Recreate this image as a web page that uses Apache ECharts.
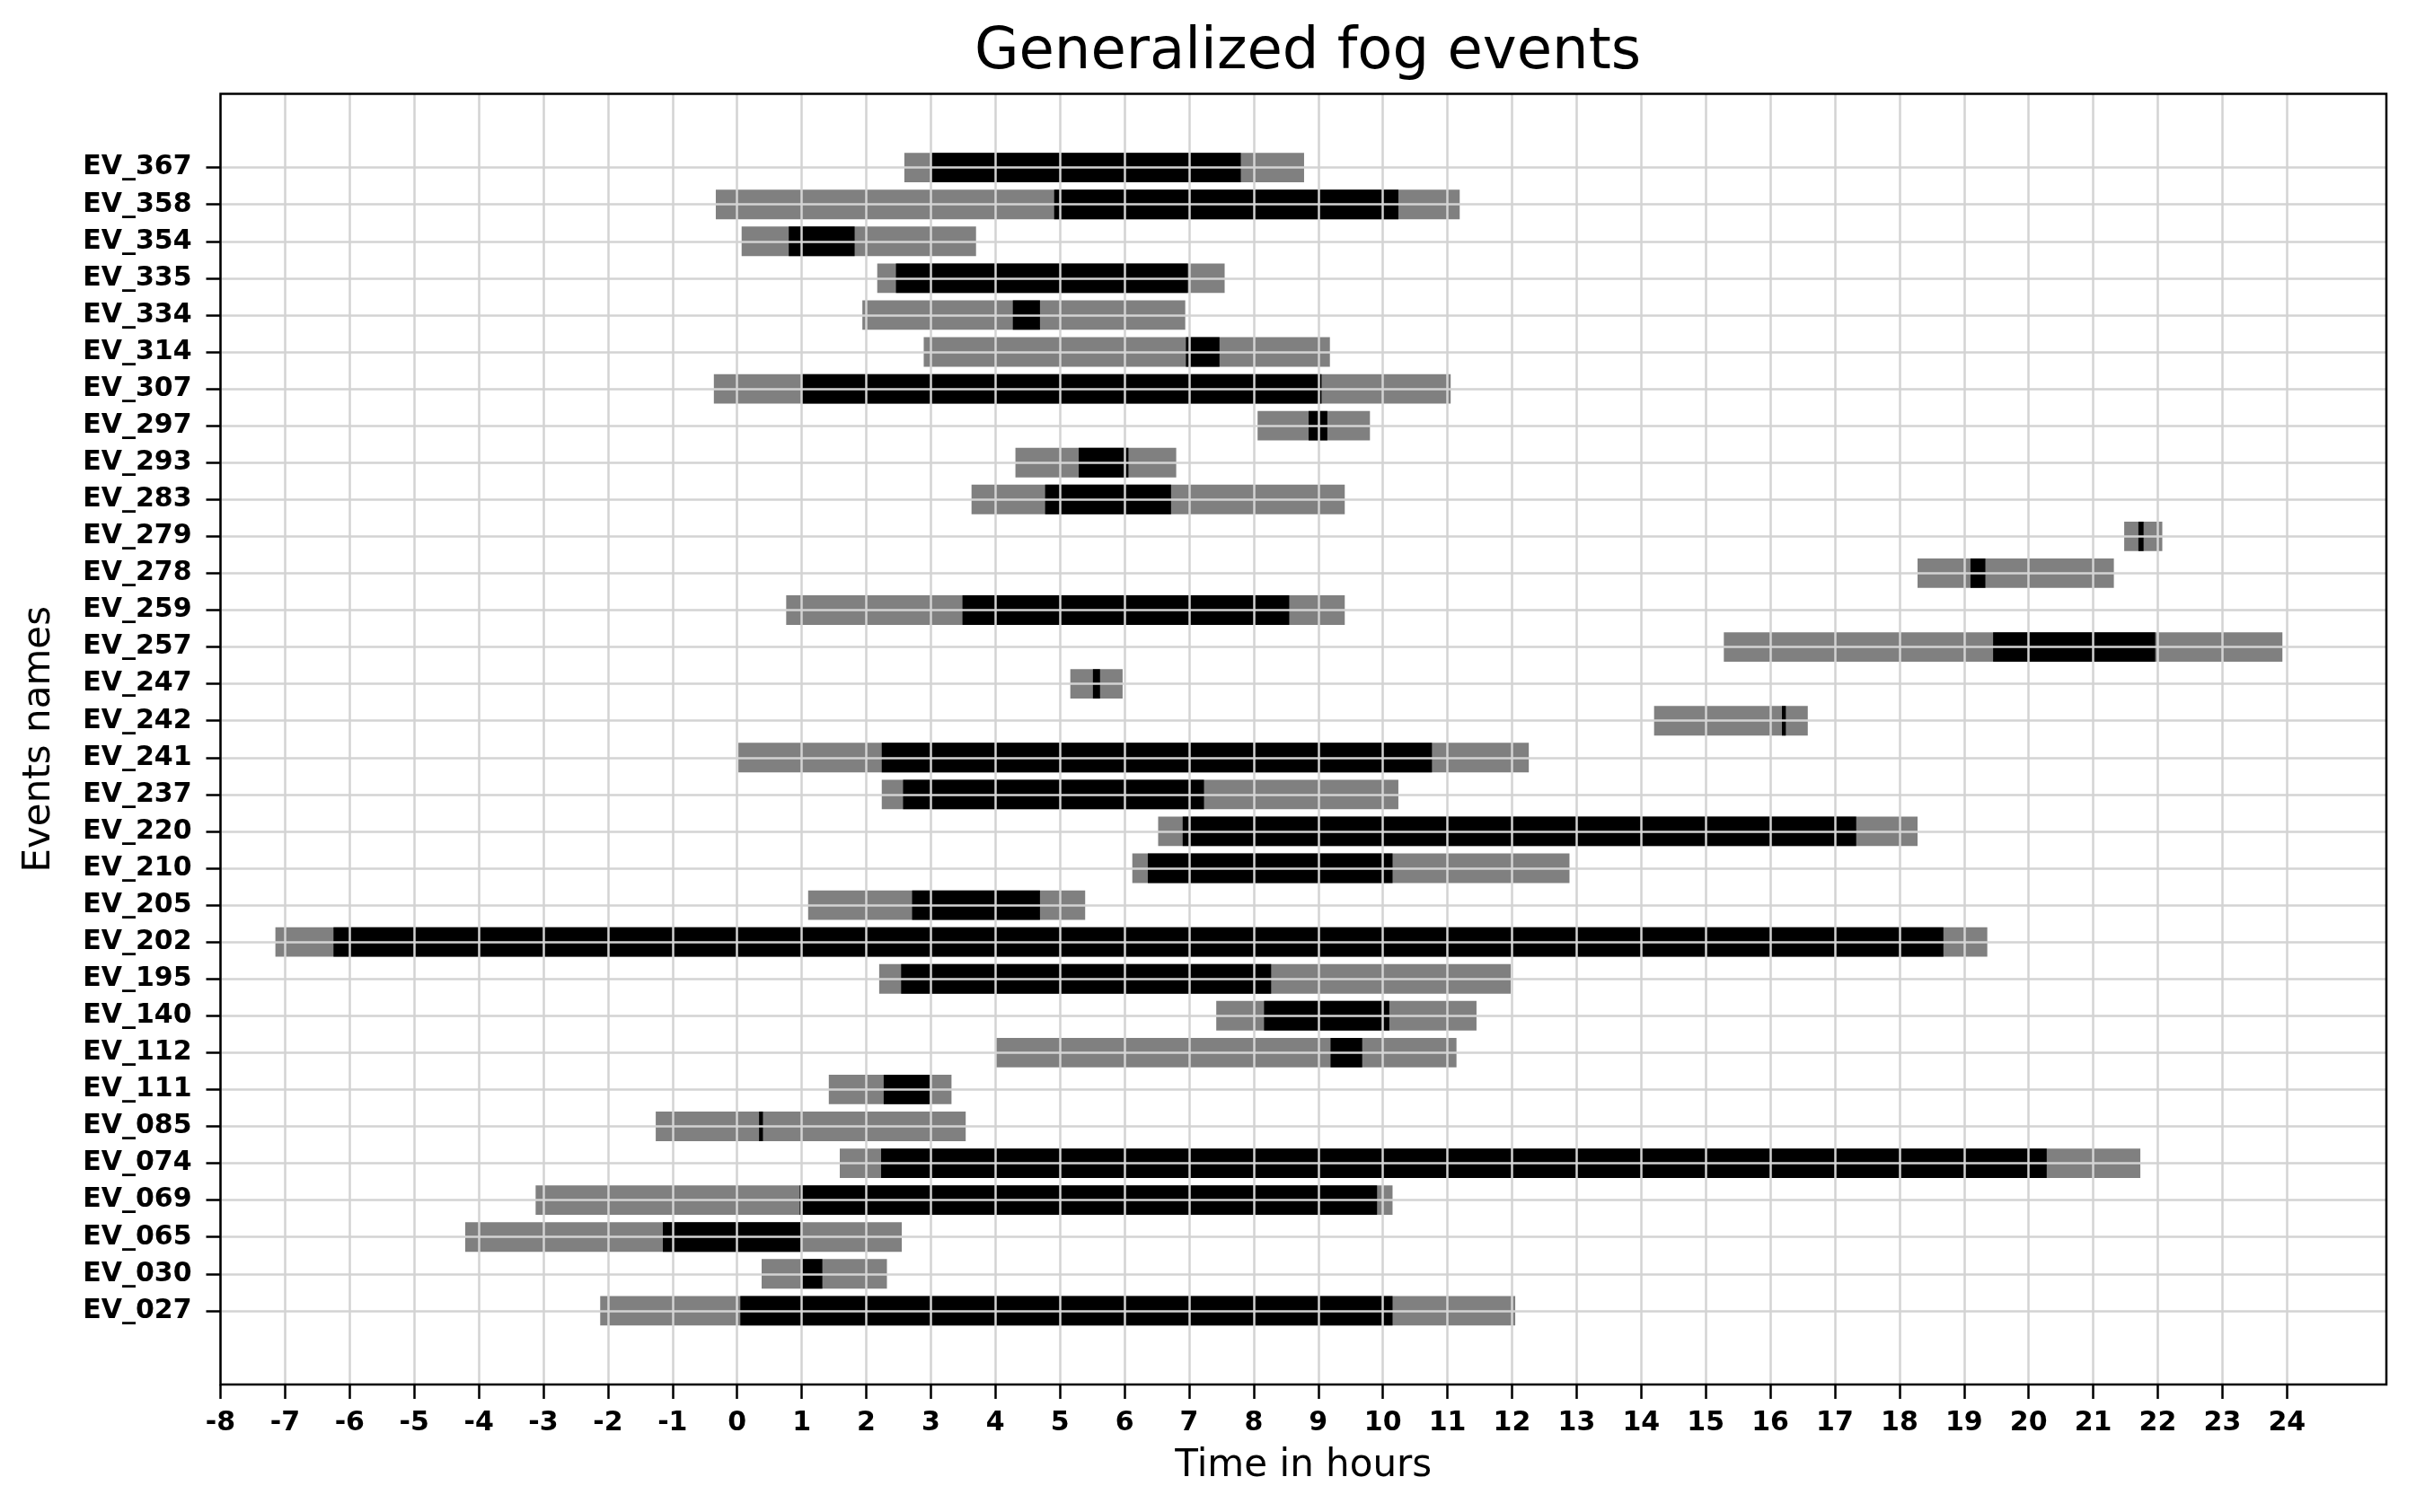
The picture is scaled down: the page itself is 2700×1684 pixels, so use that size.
<!DOCTYPE html>
<html>
<head>
<meta charset="utf-8">
<script src="https://cdn.jsdelivr.net/npm/echarts@6/dist/echarts.min.js"></script>
<style>
html, body { margin: 0; padding: 0; background: #ffffff; }
#chart { width: 2700px; height: 1684px; }
</style>
</head>
<body>
<div id="chart"></div>
<script>
// Events, listed bottom to top as drawn
const events = ['EV_027','EV_030','EV_065','EV_069','EV_074','EV_085','EV_111','EV_112','EV_140','EV_195',
                'EV_202','EV_205','EV_210','EV_220','EV_237','EV_241','EV_242','EV_247','EV_257','EV_259',
                'EV_278','EV_279','EV_283','EV_293','EV_297','EV_307','EV_314','EV_334','EV_335','EV_354',
                'EV_358','EV_367'];
// Whole fog event (grey bars), hours
const fogStart = [-2.12, 0.38, -4.21, -3.12, 1.59, -1.26, 1.42, 4.01, 7.42, 2.20,
                  -7.15, 1.10, 6.12, 6.52, 2.24, 0.02, 14.20, 5.16, 15.28, 0.76,
                  18.28, 21.48, 3.63, 4.31, 8.06, -0.36, 2.89, 1.94, 2.17, 0.07,
                  -0.33, 2.59];
const fogEnd   = [12.05, 2.32, 2.55, 10.15, 21.73, 3.54, 3.32, 11.14, 11.45, 11.98,
                  19.36, 5.39, 12.89, 18.28, 10.24, 12.26, 16.58, 5.97, 23.93, 9.41,
                  21.32, 22.07, 9.41, 6.80, 9.80, 11.05, 9.18, 6.94, 7.55, 3.70,
                  11.19, 8.78];
// Generalized part (black bars), hours
const genStart = [0.05, 1.01, -1.15, 0.97, 2.23, 0.34, 2.27, 9.19, 8.16, 2.54,
                  -6.25, 2.71, 6.36, 6.90, 2.57, 2.24, 16.18, 5.51, 19.45, 3.49,
                  19.10, 21.70, 4.77, 5.29, 8.85, 1.00, 6.95, 4.27, 2.46, 0.80,
                  4.91, 3.01];
const genEnd   = [10.15, 1.32, 0.98, 9.91, 20.28, 0.40, 2.98, 9.68, 10.10, 8.27,
                  18.68, 4.69, 10.15, 17.33, 7.23, 10.76, 16.24, 5.62, 21.96, 8.55,
                  19.33, 21.78, 6.72, 6.06, 9.14, 9.05, 7.47, 4.69, 6.98, 1.82,
                  10.24, 7.80];
// Tick labels of the time axis
const hourTicks = [-8,-7,-6,-5,-4,-3,-2,-1,0,1,2,3,4,5,6,7,8,9,10,11,12,13,14,15,16,17,18,19,20,21,22,23,24];

const rowIdx = events.map((e, i) => i);
const greyData = events.map((e, i) => [i, fogStart[i], fogEnd[i]]);
const blackData = events.map((e, i) => [i, genStart[i], genEnd[i]]);

const BAR_H = 0.8;
function renderBar(params, api) {
  const y = api.value(0);
  const p1 = api.coord([api.value(1), y]);
  const p2 = api.coord([api.value(2), y]);
  const h = api.size([0, BAR_H])[1];
  return {
    type: 'rect',
    shape: { x: p1[0], y: p1[1] - h / 2, width: p2[0] - p1[0], height: h },
    style: { fill: api.visual('color') }
  };
}

const FONT = 'DejaVu Sans';
const chart = echarts.init(document.getElementById('chart'), null, { renderer: 'canvas' });
chart.setOption({
  animation: false,
  backgroundColor: '#ffffff',
  title: {
    text: 'Generalized fog events',
    left: 1451, textAlign: 'center', top: 22,
    textStyle: { fontFamily: FONT, fontSize: 64, fontWeight: 'normal', color: '#000' }
  },
  grid: {
    left: 245.5, right: 43, top: 104.5, bottom: 142,
    show: true, z: 10, backgroundColor: 'transparent',
    borderColor: '#000', borderWidth: 2.5
  },
  xAxis: {
    type: 'value', min: -8, max: 25.54, interval: 1, z: 5,
    name: 'Time in hours', nameLocation: 'middle', nameGap: 70,
    nameTextStyle: { fontFamily: FONT, fontSize: 42, color: '#000' },
    axisLine: { show: false, onZero: false },
    axisTick: { show: true, customValues: hourTicks, length: 16, lineStyle: { color: '#000', width: 2.5 } },
    axisLabel: { customValues: hourTicks, margin: 28, fontFamily: FONT, fontSize: 30, fontWeight: 'bold', color: '#000' },
    splitLine: { show: true, lineStyle: { color: '#d3d3d3', width: 2.5 } }
  },
  yAxis: {
    type: 'value', min: -2, max: 33, interval: 1, z: 5,
    name: 'Events names', nameLocation: 'middle', nameGap: 180, nameRotate: 90,
    nameTextStyle: { fontFamily: FONT, fontSize: 42, color: '#000' },
    axisLine: { show: false, onZero: false },
    axisTick: { show: true, customValues: rowIdx, length: 16, lineStyle: { color: '#000', width: 2.5 } },
    axisLabel: { customValues: rowIdx, margin: 32, fontFamily: FONT, fontSize: 30, fontWeight: 'bold', color: '#000',
                 formatter: v => events[v] },
    splitLine: { show: true, lineStyle: { color: '#d3d3d3', width: 2.5 } }
  },
  series: [
    { type: 'custom', name: 'fog', renderItem: renderBar, data: greyData, encode: { x: [1, 2], y: 0 },
      itemStyle: { color: '#808080' }, z: 2, clip: true },
    { type: 'custom', name: 'generalized', renderItem: renderBar, data: blackData, encode: { x: [1, 2], y: 0 },
      itemStyle: { color: '#000000' }, z: 3, clip: true }
  ]
});
</script>
</body>
</html>
